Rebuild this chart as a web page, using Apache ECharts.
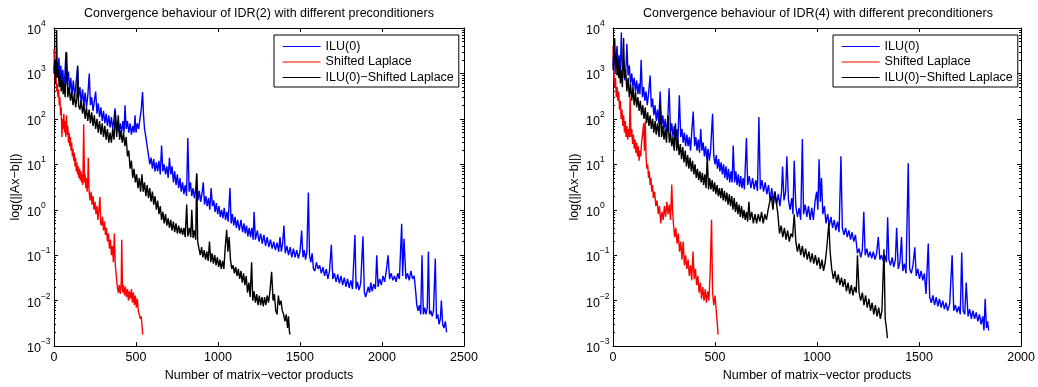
<!DOCTYPE html>
<html><head><meta charset="utf-8">
<script src="https://cdn.jsdelivr.net/npm/echarts@6/dist/echarts.min.js"></script>
<style>html,body{margin:0;padding:0;background:#fff}#c{width:1038px;height:387px}</style>
</head><body><div id="c"></div>
<script>
const seriesNames = ['ILU(0)', 'Shifted Laplace', 'ILU(0)\u2212Shifted Laplace'];
const seriesColors = ['#0000ff', '#ff0000', '#000000'];
const titles = ['Convergence behaviour of IDR(2) with different preconditioners',
                'Convergence behaviour of IDR(4) with different preconditioners'];
const xName = 'Number of matrix\u2212vector products';
const yName = 'log(||Ax\u2212b||)';
const xMaxes = [2500, 2000];
const xStep = 500;
const yExpMin = -3, yExpMax = 4;

// IDR(2) -- [matrix-vector products, residual norm]
const idr2Ilu = [[0,1.2e3],[6,2.0e3],[12,8e2],[18,1.8e3],[24,9e2],[30,2.2e3],[36,7e2],[42,1.5e3],[48,6e2],[54,1.2e3],[60,5e2],[66,9e2],[73,3.0e3],[80,6e2],[88,1.1e3],[95,4e2],[102,8e2],[110,3.5e2],[118,7e2],[126,3e2],[134,6e2],[144,1.4e3],[150,3e2],[158,5e2],[166,2.2e2],[174,4.5e2],[182,2.0e2],[190,3.8e2],[198,1.8e2],[206,3.2e2],[215,1.0e3],[222,2.0e2],[230,3.0e2],[238,1.5e2],[246,2.5e2],[254,4.0e2],[262,1.3e2],[270,2.2e2],[278,1.1e2],[286,1.8e2],[294,9e1],[302,1.5e2],[310,8e1],[318,1.3e2],[326,7e1],[334,1.2e2],[342,6.5e1],[350,1.1e2],[358,6e1],[366,1.0e2],[372,1.7e2],[380,6e1],[388,9e1],[396,5e1],[404,8e1],[412,5e1],[420,9e1],[427,5e1],[433,2.0e2],[440,6e1],[448,9e1],[456,5e1],[464,8e1],[472,4.5e1],[480,7e1],[488,5e1],[494,1.2e2],[500,5e1],[508,8e1],[516,6e1],[524,1.0e2],[532,1.6e2],[540,3.9e2],[546,1.2e2],[552,6e1],[560,4e1],[568,2.5e1],[576,1.6e1],[584,1.0e1],[592,1.4e1],[600,8e0],[608,1.3e1],[616,7e0],[624,1.1e1],[632,7e0],[640,1.2e1],[648,6e0],[656,2.6e1],[664,7e0],[672,1.0e1],[680,6e0],[688,9e0],[696,5e0],[704,1.4e1],[712,6e0],[720,9e0],[728,4e0],[736,7e0],[744,3.5e0],[752,6e0],[760,3e0],[768,5e0],[776,2.5e0],[784,4e0],[792,2.2e0],[800,3.5e0],[808,2e0],[816,3.8e1],[824,2.5e0],[832,4e0],[840,2e0],[848,3e0],[856,1.8e0],[864,2.8e0],[870,6.3e0],[878,1.6e0],[886,2.6e0],[894,1.5e0],[902,2.2e0],[910,4e0],[918,1.3e0],[926,2e0],[934,1.2e0],[942,1.8e0],[950,1.0e0],[958,3e0],[966,1.2e0],[974,1.6e0],[982,9e-1],[990,1.4e0],[998,8e-1],[1006,1.2e0],[1014,7e-1],[1022,1.0e0],[1030,6.5e-1],[1038,1.1e0],[1046,6e-1],[1054,9e-1],[1062,5.5e-1],[1073,3.0e0],[1080,5e-1],[1088,8e-1],[1096,4.5e-1],[1104,7e-1],[1112,4e-1],[1120,6e-1],[1130,3.5e-1],[1140,6e-1],[1150,3.2e-1],[1158,5e-1],[1166,3e-1],[1174,4.5e-1],[1182,2.6e-1],[1190,4e-1],[1198,2.5e-1],[1206,4e-1],[1214,2.2e-1],[1220,9e-1],[1228,2.2e-1],[1240,3.5e-1],[1250,2e-1],[1260,3e-1],[1270,1.8e-1],[1280,2.8e-1],[1290,1.6e-1],[1300,2.5e-1],[1310,1.5e-1],[1320,2.2e-1],[1330,1.4e-1],[1340,2.0e-1],[1350,1.3e-1],[1360,1.9e-1],[1370,1.2e-1],[1378,2.5e-1],[1386,1.2e-1],[1394,1.8e-1],[1402,4.5e-1],[1410,1.1e-1],[1420,1.6e-1],[1430,1.0e-1],[1440,1.5e-1],[1450,9e-2],[1460,1.4e-1],[1470,9e-2],[1480,1.3e-1],[1490,8.5e-2],[1500,1.2e-1],[1510,3.5e-1],[1518,9e-2],[1526,1.3e-1],[1534,8e-2],[1542,1.2e-1],[1551,2.4e0],[1558,1.0e-1],[1566,7e-2],[1574,1.1e-1],[1582,5e-2],[1591,4.5e-2],[1600,7e-2],[1610,5e-2],[1620,6e-2],[1630,4e-2],[1640,5.5e-2],[1650,3.5e-2],[1660,5e-2],[1670,3e-2],[1680,4.5e-2],[1691,1.7e-1],[1700,3e-2],[1710,4e-2],[1720,2.6e-2],[1730,3.8e-2],[1740,2.4e-2],[1750,3.5e-2],[1760,2.2e-2],[1770,3.2e-2],[1780,2e-2],[1790,3e-2],[1800,1.9e-2],[1810,2.8e-2],[1820,1.8e-2],[1835,2.8e-1],[1842,1.8e-2],[1850,2.6e-2],[1860,1.7e-2],[1870,2.4e-2],[1884,2.6e-1],[1892,1.6e-2],[1900,1.2e-2],[1908,1.1e-2],[1916,2e-2],[1924,1.5e-2],[1932,2.5e-2],[1940,1.6e-2],[1950,2.3e-2],[1960,1.8e-2],[1968,1.0e-1],[1976,2e-2],[1986,3e-2],[1996,2.2e-2],[2006,3.5e-2],[2016,2.6e-2],[2026,4.5e-2],[2037,1.0e-1],[2046,3e-2],[2056,4e-2],[2066,2.8e-2],[2076,3.5e-2],[2086,2.6e-2],[2096,4e-2],[2106,3e-2],[2120,4.9e-1],[2126,3.5e-2],[2134,2.3e-1],[2146,3e-2],[2156,4e-2],[2166,2.8e-2],[2176,4.5e-2],[2186,3e-2],[2196,3.5e-2],[2206,1.5e-2],[2212,8e-3],[2220,6e-3],[2228,8e-3],[2236,5e-3],[2244,1.0e-1],[2252,5e-3],[2260,7e-3],[2268,5e-3],[2276,7e-3],[2283,1.2e-1],[2290,5e-3],[2298,6e-3],[2306,4.5e-3],[2314,6e-3],[2325,8.5e-2],[2332,4e-3],[2340,5e-3],[2348,3e-3],[2356,4e-3],[2362,1.0e-2],[2370,3e-3],[2378,2.5e-3],[2386,3.5e-3],[2394,2e-3]];

const idr2Sl = [[0,3.4e3],[4,9e2],[8,6e2],[12,8e2],[16,4e2],[20,6e2],[24,3e2],[28,4.5e2],[32,2e2],[36,3e2],[40,1.2e2],[44,1.8e2],[48,4e1],[52,1.0e2],[56,6e1],[60,1.3e2],[64,5e1],[68,9e1],[72,4e1],[76,1.2e2],[80,4.5e1],[84,7e1],[88,3e1],[92,5e1],[96,2.5e1],[100,4e1],[104,2e1],[108,3e1],[112,1.5e1],[116,2.2e1],[120,1.2e1],[124,1.8e1],[128,9e0],[132,1.4e1],[136,7e0],[140,1.1e1],[144,6e0],[148,9e0],[152,5e0],[156,8e0],[160,4.5e0],[164,7e0],[168,4e0],[172,6e0],[176,3.5e0],[181,7.5e1],[186,4e0],[190,6e0],[194,3e0],[198,5e0],[202,2.5e0],[206,4e0],[209,1.4e1],[214,2.5e0],[220,1.6e0],[226,2.5e0],[232,1.3e0],[238,2e0],[244,1e0],[250,1.5e0],[256,8e-1],[262,1.2e0],[268,6e-1],[274,1.0e0],[280,1.9e0],[285,5e-1],[290,4.5e-1],[296,7e-1],[302,3.5e-1],[308,5.5e-1],[314,2.8e-1],[320,4e-1],[326,2e-1],[332,3e-1],[338,1.4e-1],[344,2.2e-1],[350,1.0e-1],[356,1.6e-1],[362,7e-2],[368,3e-1],[374,6e-2],[380,3.5e-2],[386,2e-2],[392,1.5e-2],[398,2.2e-2],[404,1.4e-2],[410,2.5e-2],[413,2.2e-1],[418,1.5e-2],[424,2.2e-2],[430,1.3e-2],[436,2e-2],[442,1.2e-2],[448,1.8e-2],[454,1.0e-2],[460,1.6e-2],[466,1.1e-2],[472,1.8e-2],[478,9e-3],[484,1.5e-2],[490,8e-3],[496,1.3e-2],[502,7e-3],[508,1.1e-2],[514,6e-3],[520,5e-3],[526,4e-3],[532,4.5e-3],[538,2.5e-3],[541,1.8e-3]];

const idr2IluSl = [[0,1.0e3],[4,2.0e3],[8,6e2],[12,1.5e3],[16,9.0e3],[20,8e2],[26,1.2e3],[32,5e2],[38,9e2],[44,4e2],[50,7e2],[56,3.5e2],[62,6e2],[68,3e2],[77,2.9e3],[84,3e2],[92,5e2],[100,2.5e2],[108,4e2],[116,2e2],[124,3.5e2],[132,1.8e2],[140,3e2],[144,1.5e3],[150,2e2],[158,1.6e2],[166,2.6e2],[174,1.3e2],[182,2.2e2],[190,1.0e2],[198,1.8e2],[206,9e1],[214,1.6e2],[222,8e1],[230,1.4e2],[238,7e1],[246,1.2e2],[254,6e1],[262,1.0e2],[270,5e1],[278,9e1],[286,4.5e1],[294,8e1],[302,4e1],[310,7e1],[318,3.5e1],[326,6e1],[334,3e1],[342,5e1],[350,3e1],[358,6e1],[366,3.5e1],[374,1.5e2],[382,4e1],[392,1.2e2],[400,3.5e1],[408,5.5e1],[416,3e1],[424,5e1],[432,2.5e1],[440,4e1],[448,1.5e1],[456,2e1],[464,8e0],[472,1.2e1],[480,5e0],[488,8e0],[496,4e0],[504,6e0],[512,3e0],[520,5e0],[528,2.5e0],[536,6e0],[544,2.5e0],[552,4e0],[560,2e0],[568,3.5e0],[576,1.8e0],[584,3e0],[592,1.5e0],[600,2.5e0],[608,1.3e0],[616,2e0],[624,1.0e0],[632,1.6e0],[640,8e-1],[648,1.2e0],[656,6e-1],[664,9e-1],[672,5e-1],[680,8e-1],[688,4.5e-1],[696,6.5e-1],[704,4e-1],[712,6e-1],[720,3.5e-1],[728,5.5e-1],[736,3.2e-1],[744,5e-1],[752,3e-1],[760,4.5e-1],[768,3e-1],[776,4e-1],[784,2.8e-1],[792,4e-1],[800,2.5e-1],[809,1.3e0],[816,2.6e-1],[826,4e-1],[834,2.5e-1],[840,1.0e0],[848,2.4e-1],[856,3.5e-1],[864,2.2e-1],[870,6.3e0],[876,2e-1],[884,1.4e-1],[892,1.0e-1],[900,1.5e-1],[908,9e-2],[916,1.3e-1],[924,8e-2],[932,1.2e-1],[940,7.5e-2],[948,2.0e-1],[956,7e-2],[964,1.1e-1],[972,6.5e-2],[980,1.0e-1],[988,6e-2],[996,9e-2],[1004,5.5e-2],[1012,8e-2],[1020,5e-2],[1028,7.5e-2],[1036,5e-2],[1044,1.5e-1],[1053,3.6e-1],[1060,1.2e-1],[1068,2.5e-1],[1076,8e-2],[1084,5e-2],[1092,6e-2],[1100,4e-2],[1108,5.5e-2],[1116,3.5e-2],[1124,5e-2],[1132,3e-2],[1140,4.5e-2],[1148,2.5e-2],[1156,4e-2],[1164,2.2e-2],[1172,3.5e-2],[1180,1.5e-2],[1188,2.5e-2],[1196,1.2e-2],[1205,7e-2],[1212,1.0e-2],[1220,1.6e-2],[1228,9e-3],[1236,1.4e-2],[1244,8e-3],[1252,1.3e-2],[1260,8e-3],[1268,1.2e-2],[1276,7.5e-3],[1284,1.2e-2],[1292,8e-3],[1300,1.3e-2],[1308,9e-3],[1316,1.5e-2],[1327,4.3e-2],[1336,1.0e-2],[1344,1.4e-2],[1352,6e-3],[1360,5e-3],[1368,1.3e-2],[1376,8e-3],[1384,1.0e-2],[1392,6e-3],[1400,5e-3],[1408,3.5e-3],[1416,5e-3],[1424,2.5e-3],[1430,4.5e-3],[1436,2e-3],[1440,1.8e-3]];

// IDR(4)
const idr4Ilu = [[0,1.5e3],[5,4e3],[10,1.0e3],[15,2.5e3],[20,4e3],[25,1.2e3],[30,2.5e3],[35,8e2],[41,8e3],[46,1.2e3],[52,2e3],[58,7e2],[64,1.5e3],[68,4.5e3],[74,9e2],[80,1.5e3],[86,6e2],[92,1.0e3],[98,5e2],[104,8e2],[110,4e2],[116,7e2],[122,3.5e2],[128,6e2],[132,3.5e2],[138,2.0e3],[144,3e2],[150,5e2],[156,2.5e2],[162,4e2],[168,2e2],[174,3.5e2],[182,9e2],[188,1.8e2],[194,2.8e2],[200,1.2e2],[206,2e2],[212,9e1],[218,1.6e2],[224,8e1],[231,4e2],[238,7e1],[244,1.2e2],[250,6e1],[256,1.0e2],[262,5e1],[268,9e1],[275,4.7e2],[282,5e1],[288,8e1],[294,4e1],[300,7e1],[306,3.5e1],[312,6e1],[318,3e1],[325,3.3e2],[332,4e1],[338,6e1],[344,3e1],[350,5e1],[356,2.5e1],[362,4.5e1],[368,2.5e1],[374,4e1],[380,2e1],[387,6e1],[393,1.45e2],[400,2.5e1],[406,4e1],[412,2e1],[418,3.5e1],[424,1.8e1],[430,6e1],[436,2e1],[442,3e1],[448,1.5e1],[454,2.5e1],[460,1.3e1],[466,2.2e1],[472,1.2e1],[478,2e1],[488,1.3e2],[494,1.5e1],[500,1.0e1],[506,1.6e1],[512,8e0],[518,1.3e1],[524,7e0],[530,1.1e1],[536,6e0],[542,1.0e1],[548,5e0],[554,9e0],[560,4.5e0],[566,8e0],[572,4e0],[578,7e0],[584,4e0],[589,2.6e1],[596,4e0],[602,7e0],[608,3.5e0],[614,6e0],[620,3.2e0],[626,5.5e0],[632,3e0],[638,5e0],[644,2.8e0],[654,3.8e1],[660,3.5e0],[668,5.5e0],[676,3e0],[684,5e0],[692,2.8e0],[700,4.5e0],[708,2.6e0],[715,1.1e2],[722,2.8e0],[730,4.5e0],[738,2.5e0],[746,4e0],[754,2.2e0],[762,3.5e0],[770,1.6e0],[778,3e0],[786,1.4e0],[794,2.5e0],[802,1.3e0],[810,2.2e0],[818,1.2e0],[826,2.5e0],[831,9e0],[838,1.6e0],[846,2.5e0],[852,1.5e1],[860,1.6e0],[868,1.0e0],[876,1.8e0],[882,8e-1],[888,1.2e1],[896,1.2e0],[904,7e-1],[912,1.1e0],[920,6e-1],[928,3.6e1],[934,8e-1],[942,1.3e0],[950,7e-1],[958,1.2e0],[966,6e-1],[974,1.1e0],[982,6e-1],[990,1.5e0],[998,2.5e0],[1004,1.0e0],[1010,1.3e1],[1016,1.5e0],[1022,5e0],[1028,8e-1],[1036,1.2e0],[1044,5e-1],[1052,8e-1],[1060,4.5e-1],[1068,7e-1],[1076,4e-1],[1084,6e-1],[1092,3.5e-1],[1100,5.5e-1],[1108,3.2e-1],[1117,1.5e1],[1124,4e-1],[1132,2.8e-1],[1140,4e-1],[1148,2.5e-1],[1156,3.5e-1],[1164,2.2e-1],[1172,3.2e-1],[1180,2e-1],[1188,2.8e-1],[1198,1.1e-1],[1206,1.4e-1],[1214,9e-2],[1222,1.3e-1],[1229,9e-1],[1236,1.0e-1],[1244,1.4e-1],[1252,9e-2],[1260,1.2e-1],[1268,8.5e-2],[1276,1.2e-1],[1284,8e-2],[1292,1.1e-1],[1300,2.5e-1],[1308,8e-2],[1316,1.0e-1],[1324,7.5e-2],[1332,1.0e-1],[1340,7e-2],[1346,6.8e-1],[1352,8e-2],[1360,6e-2],[1368,9e-2],[1376,5.5e-2],[1384,8e-2],[1390,4e-1],[1398,5e-2],[1406,7e-2],[1414,2.5e-1],[1420,4.5e-2],[1428,6.5e-2],[1436,4e-2],[1447,1.05e1],[1454,5e-2],[1462,4e-2],[1470,6e-2],[1479,1.5e-1],[1486,3.5e-2],[1494,5e-2],[1502,3e-2],[1510,4.5e-2],[1518,2.8e-2],[1526,4e-2],[1534,1.4e-2],[1545,1.8e-1],[1552,1.2e-2],[1560,9e-3],[1568,1.3e-2],[1576,8e-3],[1584,1.2e-2],[1592,7.5e-3],[1600,1.1e-2],[1608,7e-3],[1616,1.0e-2],[1624,6.5e-3],[1632,9e-3],[1640,6e-3],[1650,8.5e-3],[1662,1.0e-1],[1670,6e-3],[1678,8e-3],[1686,5.5e-3],[1694,7.5e-3],[1702,5e-3],[1709,1.15e-1],[1716,6e-3],[1724,5e-3],[1731,2.5e-2],[1740,4.5e-3],[1748,6.5e-3],[1756,4e-3],[1764,6e-3],[1772,4e-3],[1780,5.5e-3],[1788,3.5e-3],[1796,5e-3],[1804,3e-3],[1812,4.5e-3],[1818,2.2e-3],[1824,1.1e-2],[1830,2.5e-3],[1836,3.5e-3],[1841,2.2e-3]];

const idr4Sl = [[0,4e3],[4,1.0e3],[8,5e2],[12,8e2],[16,3e2],[20,5e2],[24,2.5e2],[28,4e2],[32,1.6e2],[36,2.5e2],[40,1.0e2],[44,1.6e2],[48,7e1],[52,1.2e2],[56,5e1],[60,9e1],[64,4e1],[68,7e1],[72,3.5e1],[76,6e1],[80,4e1],[84,3e2],[88,4e1],[92,6e1],[96,2.8e1],[100,4.5e1],[104,2.2e1],[108,3.5e1],[112,1.8e1],[116,3e1],[120,1.5e1],[124,2.5e1],[128,1.2e1],[132,2e1],[136,1.5e1],[140,3e1],[146,5e1],[150,8e1],[154,2e1],[158,8.7e1],[162,1.5e1],[166,8e0],[170,1.0e1],[174,5e0],[178,7e0],[182,3.5e0],[186,5e0],[190,2.5e0],[194,3.5e0],[198,1.8e0],[204,2.5e0],[210,1.2e0],[216,1.6e0],[222,8e-1],[228,1.2e0],[234,5e-1],[240,9e-1],[246,6e-1],[252,1.2e0],[258,7e-1],[264,1.5e0],[270,8e-1],[276,1.3e0],[282,6e-1],[288,3.6e0],[292,1.0e0],[296,5e-1],[302,2.5e-1],[308,4e-1],[314,1.8e-1],[320,3e-1],[326,1.2e-1],[332,2e-1],[338,8e-2],[344,2e-1],[350,6e-2],[356,1.0e-1],[362,5e-2],[368,8e-2],[374,3.5e-2],[380,6e-2],[386,2.8e-2],[392,1.2e-1],[398,3e-2],[404,5e-2],[410,2.2e-2],[416,3.5e-2],[422,1.5e-2],[428,2.5e-2],[434,1.1e-2],[440,2e-2],[446,1.0e-2],[452,1.8e-2],[458,9e-3],[464,1.6e-2],[470,1.0e-2],[476,4e-2],[483,6e-1],[488,1.5e-2],[494,8e-3],[500,1.3e-2],[506,6e-3],[510,3.5e-3],[515,1.8e-3]];

const idr4IluSl = [[0,1.2e3],[4,3e3],[8,6e3],[12,1.5e3],[16,2.5e3],[20,9e2],[24,2e3],[28,8e2],[32,1.5e3],[36,6e2],[40,1.2e3],[46,5e2],[52,6e3],[56,8e2],[62,1.2e3],[68,4e2],[74,8e2],[80,3e2],[86,6e2],[92,2.5e2],[98,5e2],[104,2e2],[110,4e2],[116,1.8e2],[122,3e2],[128,1.5e2],[134,2.5e2],[140,1.2e2],[146,2e2],[152,1.0e2],[158,1.8e2],[164,8e1],[170,1.4e2],[176,7e1],[182,1.2e2],[188,6e1],[194,1.0e2],[200,5e1],[206,9e1],[212,4.5e1],[218,8e1],[226,4e1],[231,2.2e2],[238,4e1],[244,7e1],[250,3.5e1],[256,6e1],[262,3e1],[270,1.2e2],[276,3e1],[282,5e1],[288,2.5e1],[294,4e1],[300,2e1],[306,8e1],[312,2e1],[318,3.5e1],[324,1.6e1],[330,2.8e1],[336,1.3e1],[342,2.4e1],[348,1.1e1],[354,2e1],[360,9e0],[366,1.6e1],[372,8e0],[378,1.4e1],[384,7e0],[390,1.2e1],[396,6e0],[402,1.0e1],[408,5e0],[414,8e0],[420,4.5e0],[426,7e0],[432,4e0],[438,6.5e0],[444,3.5e0],[450,6e0],[456,3e0],[462,1.5e1],[468,2.8e0],[474,5e0],[480,2.8e0],[486,4.5e0],[492,2.5e0],[498,4e0],[504,2.2e0],[510,3.5e0],[516,2e0],[522,3e0],[528,1.8e0],[534,3e0],[540,1.6e0],[546,2.6e0],[552,1.5e0],[558,2.4e0],[564,1.3e0],[570,2.2e0],[576,1.2e0],[582,2e0],[588,1.0e0],[594,1.8e0],[600,9e-1],[606,1.5e0],[612,8e-1],[618,1.3e0],[624,7e-1],[630,1.2e0],[636,6.5e-1],[642,1.0e0],[648,6e-1],[654,9e-1],[660,5.5e-1],[666,1.5e0],[672,6e-1],[680,9e-1],[688,5e-1],[696,8e-1],[704,5e-1],[712,8e-1],[720,5.5e-1],[728,9e-1],[736,5e-1],[744,8e-1],[752,6e-1],[760,1.0e0],[768,1.5e0],[776,2e0],[784,1.0e0],[792,2.5e0],[800,1.5e0],[808,8e-1],[816,3e-1],[824,4.5e-1],[832,2.5e-1],[840,4e-1],[848,2.2e-1],[856,3.5e-1],[864,2e-1],[872,3e-1],[880,2.5e-1],[888,8e-1],[896,2e-1],[904,1.2e-1],[912,1.8e-1],[920,1.0e-1],[928,1.6e-1],[936,9e-2],[944,1.4e-1],[952,8e-2],[960,1.2e-1],[968,7e-2],[976,1.1e-1],[984,6.5e-2],[992,1.0e-1],[1000,6e-2],[1008,9e-2],[1016,5e-2],[1024,8e-2],[1032,4.5e-2],[1040,7e-2],[1048,1.5e-1],[1058,5.2e-1],[1064,1.2e-1],[1072,5e-2],[1080,3e-2],[1088,4.5e-2],[1096,2.5e-2],[1104,3.8e-2],[1112,2.2e-2],[1120,3.2e-2],[1128,2e-2],[1136,3e-2],[1144,1.6e-2],[1152,2.5e-2],[1160,1.4e-2],[1168,2.2e-2],[1176,1.3e-2],[1184,2e-2],[1192,1.5e-2],[1198,1.0e-1],[1206,1.5e-2],[1214,1.0e-2],[1222,1.5e-2],[1230,8e-3],[1238,1.3e-2],[1246,7e-3],[1254,1.1e-2],[1262,6e-3],[1270,9e-3],[1278,5e-3],[1286,8e-3],[1294,4.5e-3],[1302,7e-3],[1310,4e-3],[1318,6e-3],[1328,1.35e-1],[1334,4e-3],[1340,2.5e-3],[1345,1.5e-3]];

const plotData = [[idr2Ilu, idr2Sl, idr2IluSl], [idr4Ilu, idr4Sl, idr4IluSl]];

// ---------- build option ----------
const FONT = '"Liberation Sans", Arial, Helvetica, sans-serif';
const FS = 12.5;
const grids = [
  {left: 54, top: 28, width: 410, height: 324},
  {left: 613, top: 28, width: 410, height: 324}
];
const minorLog = [];
for (let d = yExpMin; d < yExpMax; d++) for (let m = 2; m <= 9; m++) minorLog.push(d + Math.log10(m));

const xAxes = [], yAxes = [], series = [], titleArr = [], legends = [];
grids.forEach((g, gi) => {
  const common = {gridIndex: gi, type: 'value', min: 0, max: xMaxes[gi], interval: xStep,
    splitLine: {show: false},
    axisLine: {show: true, onZero: false, lineStyle: {color: '#000', width: 1}},
    axisTick: {show: true, inside: true, length: 4, lineStyle: {color: '#000'}}};
  xAxes.push(Object.assign({}, common, {position: 'bottom',
    axisLabel: {show: true, color: '#000', fontSize: FS, fontFamily: FONT, margin: 5,
      showMinLabel: true, showMaxLabel: true, formatter: v => String(v)},
    name: xName, nameLocation: 'middle', nameGap: 19,
    nameTextStyle: {color: '#000', fontSize: FS, fontFamily: FONT}}));
  xAxes.push(Object.assign({}, common, {position: 'top', axisLabel: {show: false}}));

  // data axis (log), hidden
  yAxes.push({gridIndex: gi, type: 'log', logBase: 10, min: 1e-3, max: 1e4, show: false});
  const vbase = {gridIndex: gi, type: 'value', min: yExpMin, max: yExpMax, interval: 1,
    splitLine: {show: false}};
  yAxes.push(Object.assign({}, vbase, {position: 'left',
    axisLine: {show: true, onZero: false, lineStyle: {color: '#000', width: 1}},
    axisTick: {show: true, inside: true, length: 4, lineStyle: {color: '#000'}},
    axisLabel: {show: true, align: 'left', margin: 27, color: '#000',
      formatter: v => '{b|10}{s|' + (v < 0 ? '\u2212' + (-v) : v) + '}',
      rich: {b: {fontSize: FS, fontFamily: FONT, color: '#000', lineHeight: 18, verticalAlign: 'bottom'},
             s: {fontSize: 8.5, fontFamily: FONT, color: '#000', verticalAlign: 'top'}}},
    name: yName, nameLocation: 'middle', nameGap: 32, nameRotate: 90,
    nameTextStyle: {color: '#000', fontSize: FS, fontFamily: FONT}}));
  yAxes.push(Object.assign({}, vbase, {position: 'left',
    axisLine: {show: false}, axisLabel: {show: false},
    axisTick: {show: true, inside: true, length: 2, customValues: minorLog, lineStyle: {color: '#000'}}}));
  yAxes.push(Object.assign({}, vbase, {position: 'right',
    axisLine: {show: true, onZero: false, lineStyle: {color: '#000', width: 1}},
    axisLabel: {show: false},
    axisTick: {show: true, inside: true, length: 4, lineStyle: {color: '#000'}}}));
  yAxes.push(Object.assign({}, vbase, {position: 'right',
    axisLine: {show: false}, axisLabel: {show: false},
    axisTick: {show: true, inside: true, length: 2, customValues: minorLog, lineStyle: {color: '#000'}}}));

  plotData[gi].forEach((d, si) => {
    series.push({type: 'line', name: seriesNames[si], xAxisIndex: gi * 2, yAxisIndex: gi * 5,
      data: d, symbol: 'none', showSymbol: false, clip: true,
      lineStyle: {color: seriesColors[si], width: 1.4}, itemStyle: {color: seriesColors[si]},
      emphasis: {disabled: true}, silent: true});
  });

  titleArr.push({text: titles[gi], left: g.left + g.width / 2, top: 7, textAlign: 'center', padding: 0,
    textStyle: {fontSize: FS, fontWeight: 'normal', color: '#000', fontFamily: FONT}});

  legends.push({orient: 'vertical', left: g.left + g.width - 190, top: 35,
    data: seriesNames,
    backgroundColor: '#fff', borderColor: '#000', borderWidth: 1,
    itemWidth: 38, itemHeight: 12,
    itemStyle: {opacity: 0},
    lineStyle: {width: 1.2},
    padding: [5, 5, 3, 8], itemGap: 2.5,
    selectedMode: false,
    textStyle: {fontSize: FS, fontFamily: FONT, color: '#000'}});
});

const chart = echarts.init(document.getElementById('c'), null, {renderer: 'canvas'});
chart.setOption({
  animation: false,
  backgroundColor: '#fff',
  title: titleArr,
  legend: legends,
  grid: grids.map(g => Object.assign({containLabel: false}, g)),
  xAxis: xAxes,
  yAxis: yAxes,
  series: series
});
</script>
</body></html>
